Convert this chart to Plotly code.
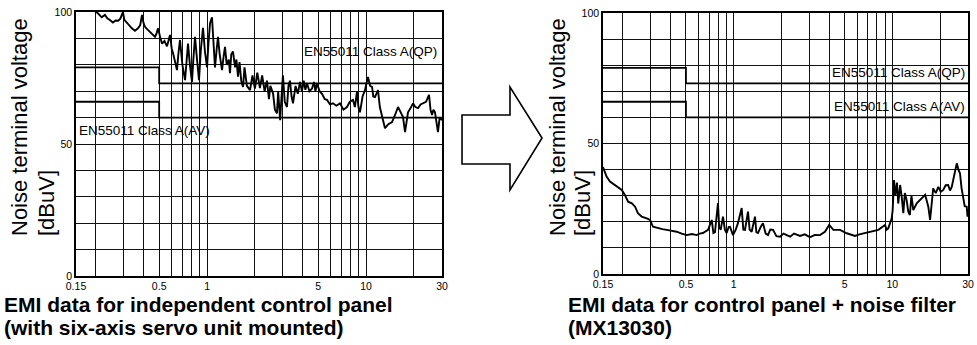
import plotly.graph_objects as go

# frequency [MHz] / level [dBuV]
freq_panel = [0.15, 0.17, 0.19, 0.206, 0.2175, 0.228, 0.236, 0.245, 0.256, 0.266, 0.276, 0.285,
              0.292, 0.296, 0.302, 0.314, 0.325, 0.337, 0.352, 0.368, 0.38, 0.39, 0.398, 0.407,
              0.42, 0.438, 0.455, 0.471, 0.482, 0.492, 0.505, 0.521, 0.54, 0.56, 0.585, 0.6,
              0.611, 0.63, 0.647, 0.66, 0.676, 0.7, 0.727, 0.745, 0.759, 0.78, 0.804, 0.82,
              0.84, 0.865, 0.89, 0.915, 0.943, 0.97, 1.0, 1.02, 1.044, 1.074, 1.1, 1.122,
              1.15, 1.172, 1.2, 1.242, 1.27, 1.297, 1.33, 1.37, 1.394, 1.42, 1.456, 1.5,
              1.53, 1.565, 1.6, 1.64, 1.683, 1.72, 1.78, 1.863, 1.93, 2.0, 2.07, 2.15,
              2.22, 2.3, 2.38, 2.45, 2.5, 2.6, 2.67, 2.75, 2.8, 2.88, 2.94, 3.0,
              3.08, 3.18, 3.25, 3.32, 3.4, 3.47, 3.6, 3.72, 3.84, 3.95, 4.05, 4.15,
              4.25, 4.4, 4.57, 4.7, 4.8, 4.91, 5.1, 5.28, 5.5, 5.68, 5.93, 6.19,
              6.5, 6.85, 7.2, 7.58, 7.9, 8.27, 8.5, 8.76, 8.95, 9.15, 9.5, 9.84,
              10.05, 10.28, 10.6, 10.9, 11.1, 11.37, 11.6, 11.88, 12.2, 12.58, 13.14, 13.8,
              14.55, 15.2, 15.87, 16.5, 17.06, 17.56, 18.34, 19.0, 19.71, 20.4, 21.2, 22.0,
              22.8, 23.8, 24.86, 25.4, 25.96, 26.5, 27.1, 27.7, 28.3, 29.0, 30.0]
level_panel = [104, 102.5, 101, 99.5, 98, 98.9, 97.6, 97, 96, 96.8, 96.7, 97.5,
               98.9, 100, 97, 95.8, 94.8, 93.8, 92.9, 93.8, 95, 98.9, 96, 94.4,
               93.5, 92.5, 91.5, 90.6, 92, 93.8, 91, 88, 89, 87, 91.3, 86,
               84.5, 81, 78, 84, 89.4, 80, 74.2, 82, 88, 80, 73.5, 82,
               90.6, 82, 74.2, 86, 94, 85, 79, 88, 95.8, 98, 88, 79,
               86, 90.6, 84, 78, 83, 86.8, 80, 82, 76.8, 84, 85, 79,
               82, 75.5, 81, 74, 71.6, 79, 72, 70.4, 76, 71, 77, 71.2,
               76, 70, 74, 67, 72, 69.2, 63, 61.6, 70, 59, 68, 76,
               66, 64, 72, 74, 68, 65.4, 72, 69, 73.5, 70, 74, 70.5,
               73, 70, 71, 73.5, 70, 73, 70, 69, 67, 66.7, 65, 65.4,
               64.5, 65.4, 63, 64, 66, 66.7, 64, 69.7, 64, 62, 68, 70.4,
               73, 75.4, 72, 71.6, 68, 67.8, 69, 70.4, 64, 60.2, 56, 57.5,
               58.3, 61, 64, 62, 60.2, 54.5, 62, 63.5, 65.4, 64, 63.6, 65,
               65.4, 66, 68.6, 63, 61, 63, 62, 58, 54.5, 60, 59]

freq_filter = [0.15, 0.152, 0.158, 0.166, 0.1785, 0.186, 0.197, 0.206, 0.216, 0.228, 0.239, 0.249,
               0.263, 0.283, 0.297, 0.31, 0.333, 0.355, 0.378, 0.41, 0.437, 0.47, 0.506, 0.545,
               0.584, 0.61, 0.64, 0.689, 0.727, 0.745, 0.762, 0.796, 0.81, 0.828, 0.856, 0.88,
               0.903, 0.93, 0.948, 0.99, 1.03, 1.064, 1.123, 1.15, 1.178, 1.231, 1.26, 1.298,
               1.362, 1.39, 1.423, 1.48, 1.53, 1.59, 1.646, 1.7, 1.77, 1.86, 1.96, 2.06,
               2.16, 2.27, 2.4, 2.62, 2.8, 3.03, 3.25, 3.5, 3.76, 4.0, 4.25, 4.68,
               5.16, 5.5, 5.82, 6.2, 6.56, 7.41, 8.16, 9.0, 9.2, 9.43, 9.7, 9.91,
               10.05, 10.25, 10.44, 10.7, 10.9, 11.2, 11.46, 11.73, 12.0, 12.3, 12.6, 12.9,
               13.2, 13.56, 14.25, 15.3, 16.1, 16.5, 16.86, 17.3, 17.7, 18.1, 18.8, 19.5,
               20.2, 20.95, 21.7, 22.5, 23.1, 23.7, 24.6, 25.5, 26.1, 26.7, 27.3, 28.0,
               28.6, 29.45, 29.8, 30.0]
level_filter = [41, 39.8, 37.3, 35.4, 34.1, 33.4, 32.2, 30.3, 27.7, 27.1, 25.8, 23.3,
                22, 21.3, 20.7, 18.1, 17.5, 17.2, 16.9, 16.5, 16.2, 15.5, 14.9, 15.3,
                14.9, 15.5, 15.7, 16.9, 20.7, 15.7, 16, 27.2, 18, 16.9, 22, 17,
                15.7, 18, 18.1, 14.9, 17, 19.5, 25.3, 17, 16.9, 23.9, 17, 16.2,
                22, 16, 15.7, 18, 19.5, 15.5, 14.9, 17, 16.9, 14.5, 14.3, 15.5,
                14.9, 14.3, 15.5, 14.6, 15.2, 14.1, 15, 14.9, 16.2, 18.8, 16.9, 16.9,
                15.6, 15, 14.6, 15.2, 15.6, 16.2, 16.9, 18.8, 17, 17.5, 20, 21.3,
                24.5, 36, 30, 35, 27, 34.1, 29.6, 23.3, 31, 28.4, 24, 22.6,
                30, 24.5, 27.1, 29, 30.3, 28, 25.8, 20.7, 28, 32.8, 31, 33.4,
                31.5, 32.2, 34, 34.1, 32, 33.4, 38, 42.4, 40, 38.6, 33, 29.6,
                26, 25.8, 22, 24]

# EN55011 class A limits
limit_freq = [0.15, 0.5, 30]
limit_qp = [79, 73, 73]
limit_av = [66, 60, 60]

grid_freq = [0.15, 0.2, 0.3, 0.4, 0.5, 0.6, 0.7, 0.8, 0.9, 1, 2, 3, 4, 5, 6, 7, 8, 9, 10, 20, 30]
freq_labels = {0.15: "0.15", 0.5: "0.5", 1: "1", 5: "5", 10: "10", 30: "30"}
grid_level = list(range(0, 101, 10))
level_labels = {0: "0", 50: "50", 100: "100"}

W, H = 977, 345
FONT = "Liberation Sans, Arial, sans-serif"


def px(x):
    return x / W


def py(y):
    return 1 - y / H


fig = go.Figure()
for ax, fx, fy in [("", freq_panel, level_panel), ("2", freq_filter, level_filter)]:
    xa, ya = "x" + ax, "y" + ax
    for lim in (limit_qp, limit_av):
        fig.add_trace(go.Scatter(x=limit_freq, y=lim, mode="lines", line_shape="hv",
                                 line=dict(color="black", width=1.8), xaxis=xa, yaxis=ya))
    fig.add_trace(go.Scatter(x=fx, y=fy, mode="lines",
                             line=dict(color="black", width=1.9), xaxis=xa, yaxis=ya))

xaxis_style = dict(type="log", range=[-0.8239, 1.4771], tickmode="array", tickvals=grid_freq,
                   ticktext=[freq_labels.get(v, "") for v in grid_freq],
                   showgrid=True, gridcolor="#111111", gridwidth=1.3, automargin=False,
                   showline=True, mirror=True, linecolor="black", linewidth=1.6,
                   ticks="", tickfont=dict(family=FONT, size=10.5, color="black"), zeroline=False)
yaxis_style = dict(range=[0, 100], tickmode="array", tickvals=grid_level,
                   ticktext=[level_labels.get(v, "") for v in grid_level],
                   showgrid=True, gridcolor="#111111", gridwidth=1.3, automargin=False,
                   showline=True, mirror=True, linecolor="black", linewidth=1.6,
                   ticks="", tickfont=dict(family=FONT, size=10.5, color="black"), zeroline=False)

fig.update_layout(
    width=W, height=H, margin=dict(l=0, r=0, t=0, b=0),
    paper_bgcolor="white", plot_bgcolor="white", showlegend=False, hovermode=False,
    xaxis=dict(xaxis_style, domain=[px(76), px(442)], anchor="y"),
    yaxis=dict(yaxis_style, domain=[py(276), py(12)], anchor="x"),
    xaxis2=dict(xaxis_style, domain=[px(603), px(968)], anchor="y2"),
    yaxis2=dict(yaxis_style, domain=[py(274), py(13)], anchor="x2"),
)

notes = [
    ("Noise terminal voltage", 19, 237, "center", "bottom", -90, 22, False),
    ("[dBuV]", 46, 237, "center", "bottom", -90, 22, False),
    ("Noise terminal voltage", 557, 237, "center", "bottom", -90, 22, False),
    ("[dBuV]", 582, 237, "center", "bottom", -90, 22, False),
    ("EN55011 Class A(QP)", 438, 52, "right", "middle", 0, 13.5, False),
    ("EN55011 Class A(AV)", 78, 130, "left", "middle", 0, 13.5, False),
    ("EN55011 Class A(QP)", 966, 72, "right", "middle", 0, 13.5, False),
    ("EN55011 Class A(AV)", 966, 106, "right", "middle", 0, 13.5, False),
    ("EMI data for independent control panel", 3, 304, "left", "middle", 0, 21, True),
    ("(with six-axis servo unit mounted)", 3, 327, "left", "middle", 0, 21, True),
    ("EMI data for control panel + noise filter", 567, 304, "left", "middle", 0, 21, True),
    ("(MX13030)", 567, 327, "left", "middle", 0, 21, True),
]
for text, x, y, xanc, yanc, ang, size, bold in notes:
    fig.add_annotation(text=f"<b>{text}</b>" if bold else text, xref="paper", yref="paper",
                       x=px(x), y=py(y), xanchor=xanc, yanchor=yanc, textangle=ang,
                       showarrow=False, align="left", borderpad=0,
                       font=dict(family=FONT, size=size, color="black"))

# outline arrow between the two charts
arrow = [(462, 115), (510, 115), (510, 87), (542, 138), (510, 190), (510, 164), (462, 164)]
path = "M " + " L ".join(f"{px(x):.4f},{py(y):.4f}" for x, y in arrow) + " Z"
fig.add_shape(type="path", path=path, xref="paper", yref="paper",
              line=dict(color="black", width=1.6), fillcolor="white")

# drop the default page margin so the figure sits at the window corner
fig.write_html("out.html", config={"displayModeBar": False},
               post_script="document.body.style.margin='0';")
